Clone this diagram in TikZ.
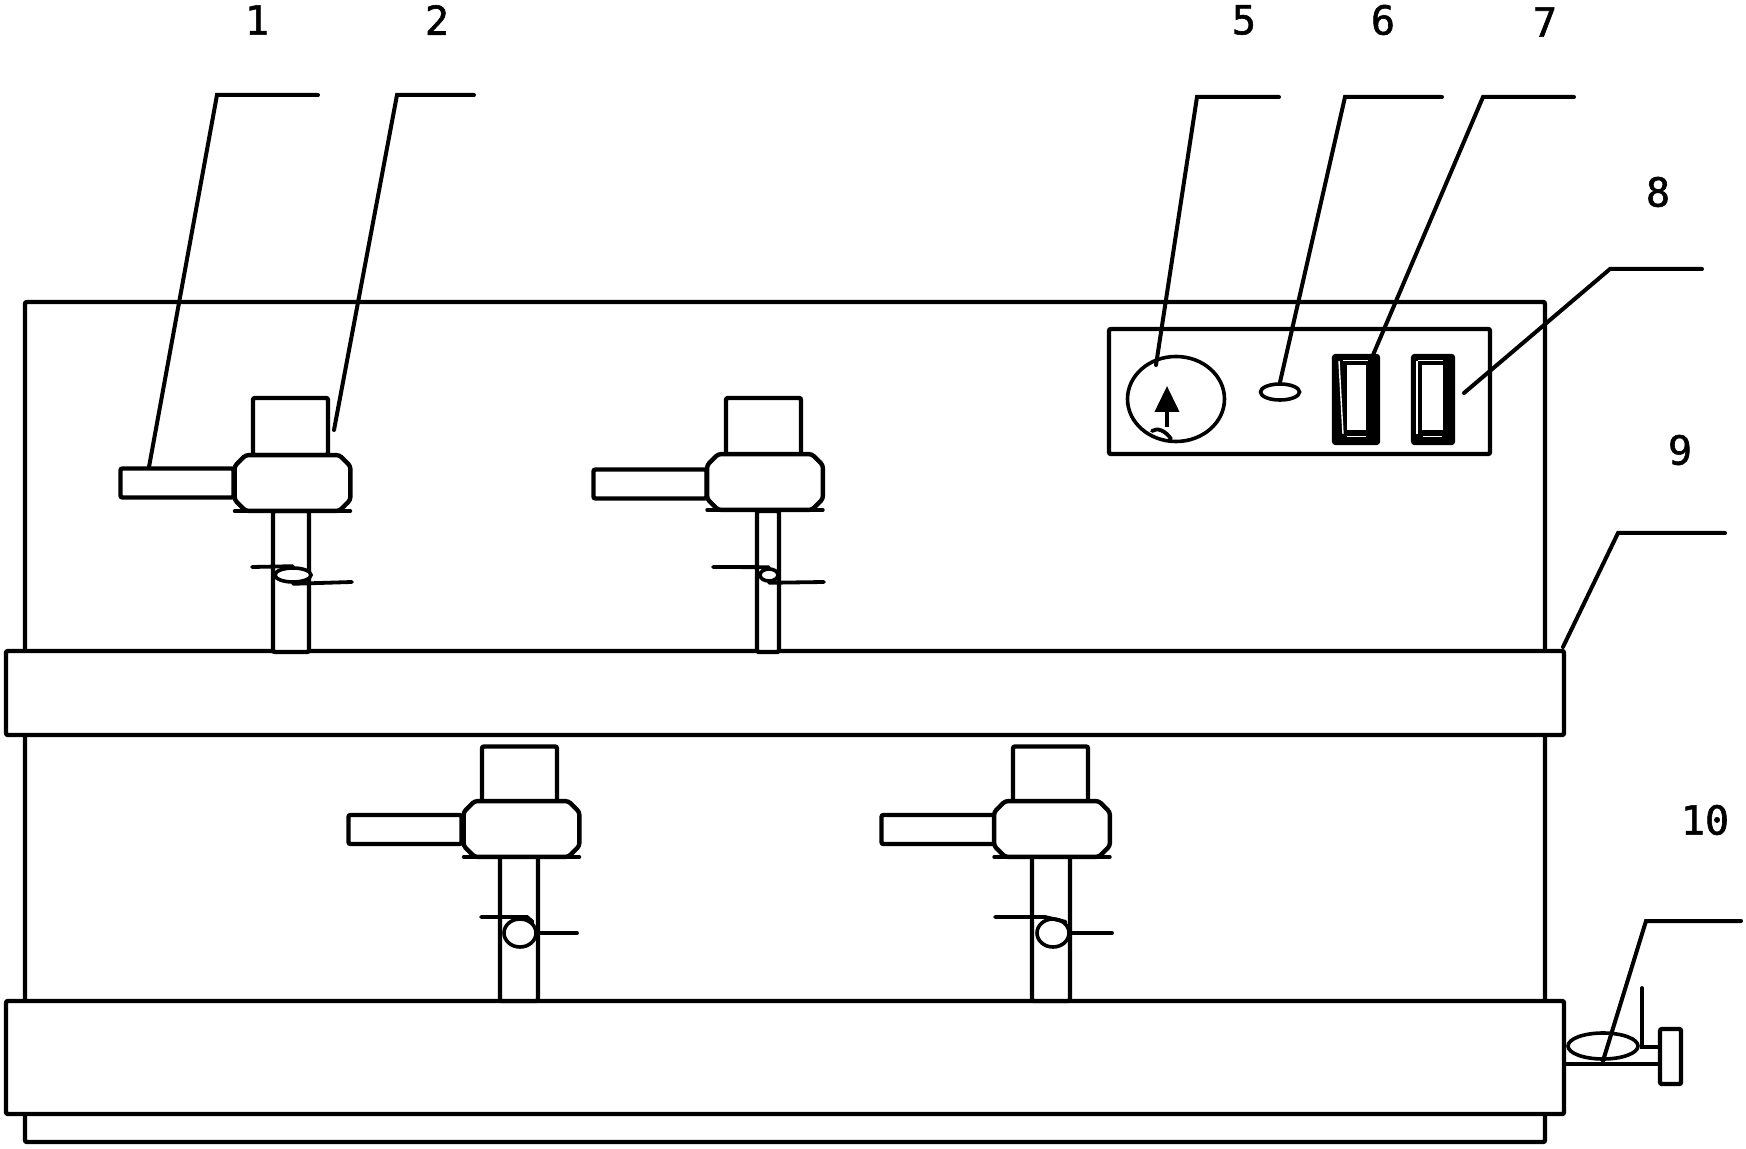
\documentclass[tikz,border=0pt]{standalone}
\usepackage{fontspec}
\setmainfont[FakeBold=1.5]{DejaVu Sans Mono}
\usetikzlibrary{shapes.geometric,arrows.meta}

\begin{document}
\begin{tikzpicture}[x=0.5pt,y=-0.5pt]
    \def\px{0.5pt}
    \def\cut{5.5pt}
    \tikzstyle{part}=[draw=black,fill=white,line width=2.2pt,inner sep=0pt,rounded corners=1pt]
    \tikzstyle{handlebox}=[part,minimum width=113*\px,minimum height=29*\px]
    \tikzstyle{capbox}=[part,minimum width=75*\px,minimum height=57*\px]
    \tikzstyle{bodybox}=[inner sep=0pt,minimum width=115*\px,minimum height=55*\px]
    \tikzstyle{band}=[part,minimum width=1558*\px]
    \tikzstyle{knob}=[part,ellipse,rounded corners=0pt,line width=1.8pt]
    \tikzstyle{lead}=[draw=black,line width=2pt,line cap=round]
    \tikzstyle{wire}=[draw=black,line width=1.9pt,line cap=round]
    \tikzstyle{num}=[inner sep=0pt,font=\fontsize{20}{24}\selectfont]
    \tikzstyle{glint}=[draw=white,line width=0.7pt]
    \def\chamfer#1{
        \draw[part,rounded corners=1.5pt] ([xshift=\cut]#1.north west) -- ([xshift=-\cut]#1.north east) -- ([yshift=-\cut]#1.north east)
            -- ([yshift=\cut]#1.south east) -- ([xshift=-\cut]#1.south east) -- ([xshift=\cut]#1.south west)
            -- ([yshift=\cut]#1.south west) -- ([yshift=-\cut]#1.north west) -- cycle;
        \draw[part,line width=1.8pt,line cap=round] (#1.south west) -- (#1.south east);
    }

    \useasboundingbox (0,0) rectangle (1746,1149);

    % housing and the two bands
    \node[part,minimum width=1520*\px,minimum height=840*\px] (frame) at (785,722) {};
    \node[band,minimum height=84*\px] (band1) at (785,693) {};
    \node[band,minimum height=113*\px] (band2) at (785,1057.5) {};

    % upper row
    \node[part,minimum width=36*\px,minimum height=141*\px] (pipe1) at (291,581.5) {};
    \node[handlebox] (handle1) at (177,483) {};
    \node[capbox] (cap1) at (290.5,426.5) {};
    \node[bodybox] (body1) at (292.5,483) {};
    \chamfer{body1}
    \node[knob,minimum width=36*\px,minimum height=14*\px] (knob1) at (293,575) {};
    \coordinate (k1a) at (252,567);
    \coordinate (k1b) at (352,582);
    \draw[wire] (k1a) -- (knob1.north);
    \draw[wire] (knob1.south) -- (k1b);

    \node[part,minimum width=22*\px,minimum height=141*\px] (pipe2) at (768,581.5) {};
    \node[handlebox] (handle2) at (650,484) {};
    \node[capbox] (cap2) at (763.5,426.5) {};
    \node[bodybox] (body2) at (765,482) {};
    \chamfer{body2}
    \node[knob,minimum width=18*\px,minimum height=12*\px] (knob2) at (769,575) {};
    \coordinate (k2a) at (713,567);
    \coordinate (k2b) at (824,582);
    \draw[wire] (k2a) -- (knob2.north);
    \draw[wire] (knob2.south) -- (k2b);

    % lower row
    \node[part,minimum width=38*\px,minimum height=146*\px] (pipe3) at (519,928) {};
    \node[handlebox] (handle3) at (405,829.5) {};
    \node[capbox] (cap3) at (519.5,775) {};
    \node[bodybox] (body3) at (521.5,829) {};
    \chamfer{body3}
    \node[knob,minimum width=32*\px,minimum height=28*\px] (knob3) at (520,933) {};
    \coordinate (k3a) at (481,917);
    \coordinate (k3m) at (527,917);
    \coordinate (k3b) at (577,933);
    \draw[wire] (k3a) -- (k3m) -- (knob3.north east);
    \draw[wire] (knob3.east) -- (k3b);

    \node[part,minimum width=38*\px,minimum height=146*\px] (pipe4) at (1051,928) {};
    \node[handlebox] (handle4) at (938,829.5) {};
    \node[capbox] (cap4) at (1050.5,775) {};
    \node[bodybox] (body4) at (1052,829) {};
    \chamfer{body4}
    \node[knob,minimum width=32*\px,minimum height=28*\px] (knob4) at (1053,933) {};
    \coordinate (k4a) at (995,917);
    \coordinate (k4m) at (1045,917);
    \coordinate (k4b) at (1112,933);
    \draw[wire] (k4a) -- (k4m) -- (knob4.north east);
    \draw[wire] (knob4.east) -- (k4b);

    % panel
    \node[part,minimum width=381*\px,minimum height=125*\px] (panel) at (1299.5,391.5) {};
    \node[knob,minimum width=97*\px,minimum height=85*\px] (gauge) at (1176,399) {};
    \coordinate (needlea) at (1167,427);
    \coordinate (needleb) at (1167,386);
    \draw[line width=2pt,-{Triangle[length=13pt,width=12pt]}] (needlea) -- (needleb);
    \coordinate (bumpa) at (1152,431);
    \coordinate (bumpb) at (1171,439);
    \draw[wire] (bumpa) .. controls (1157,427) and (1166,431) .. (bumpb);
    \node[knob,minimum width=39*\px,minimum height=16*\px] (lamp) at (1280,392) {};

    \node[part,fill=black,minimum width=44*\px,minimum height=87*\px] (switch1) at (1356,399.5) {};
    \node[fill=white,inner sep=0pt,minimum width=19*\px,minimum height=65*\px] (slot1) at (1356.5,397.5) {};
    \draw[glint] (1343,360.5) -- (1368,360.5);
    \draw[glint] (1347,436.5) -- (1366,436.5);
    \draw[glint] (1339,361) -- (1343,434);

    \node[part,fill=black,minimum width=40*\px,minimum height=87*\px] (switch2) at (1433,399.5) {};
    \node[fill=white,inner sep=0pt,minimum width=21*\px,minimum height=65*\px] (slot2) at (1432.5,397.5) {};
    \draw[glint] (1418,360.5) -- (1443,360.5);
    \draw[glint] (1423,436.5) -- (1442,436.5);
    \draw[glint] (1417,361) -- (1417,434);

    % valve on the lower band
    \node[part,minimum width=21*\px,minimum height=55*\px] (grip) at (1670.5,1056.5) {};
    \node[knob,minimum width=70*\px,minimum height=26*\px] (valve) at (1603,1046) {};
    \coordinate (stema) at (1564,1064);
    \coordinate (stemb) at (1660,1064);
    \coordinate (posta) at (1642,988);
    \coordinate (postb) at (1642,1047);
    \coordinate (postc) at (1660,1047);
    \draw[part] (stema) -- (stemb);
    \draw[wire] (posta) -- (postb) -- (postc);

    % leaders
    \coordinate (l1a) at (318,95);  \coordinate (l1b) at (217,95);  \coordinate (l1c) at (149,467);
    \coordinate (l2a) at (474,95);  \coordinate (l2b) at (397,95);  \coordinate (l2c) at (334,430);
    \coordinate (l5a) at (1279,97); \coordinate (l5b) at (1197,97); \coordinate (l5c) at (1156,365);
    \coordinate (l6a) at (1442,97); \coordinate (l6b) at (1345,97);
    \coordinate (l7a) at (1574,97); \coordinate (l7b) at (1483,97); \coordinate (l7c) at (1373,355);
    \coordinate (l8a) at (1702,269); \coordinate (l8b) at (1610,269); \coordinate (l8c) at (1464,393);
    \coordinate (l9a) at (1725,533); \coordinate (l9b) at (1618,533); \coordinate (l9c) at (1563,647);
    \coordinate (l10a) at (1741,921); \coordinate (l10b) at (1646,921);

    \draw[lead] (l1a) -- (l1b) -- (l1c);
    \draw[lead] (l2a) -- (l2b) -- (l2c);
    \draw[lead] (l5a) -- (l5b) -- (l5c);
    \draw[lead] (l6a) -- (l6b) -- (lamp.north);
    \draw[lead] (l7a) -- (l7b) -- (l7c);
    \draw[lead] (l8a) -- (l8b) -- (l8c);
    \draw[lead] (l9a) -- (l9b) -- (l9c);
    \draw[lead] (l10a) -- (l10b) -- (valve.south);

    % numbers
    \node[num] (n1) at (257,20) {1};
    \node[num] (n2) at (437,20) {2};
    \node[num] (n5) at (1244,20) {5};
    \node[num] (n6) at (1383,20) {6};
    \node[num] (n7) at (1545,22) {7};
    \node[num] (n8) at (1658,192) {8};
    \node[num] (n9) at (1680,450) {9};
    \node[num] (n10) at (1705,820) {10};
\end{tikzpicture}
\end{document}
